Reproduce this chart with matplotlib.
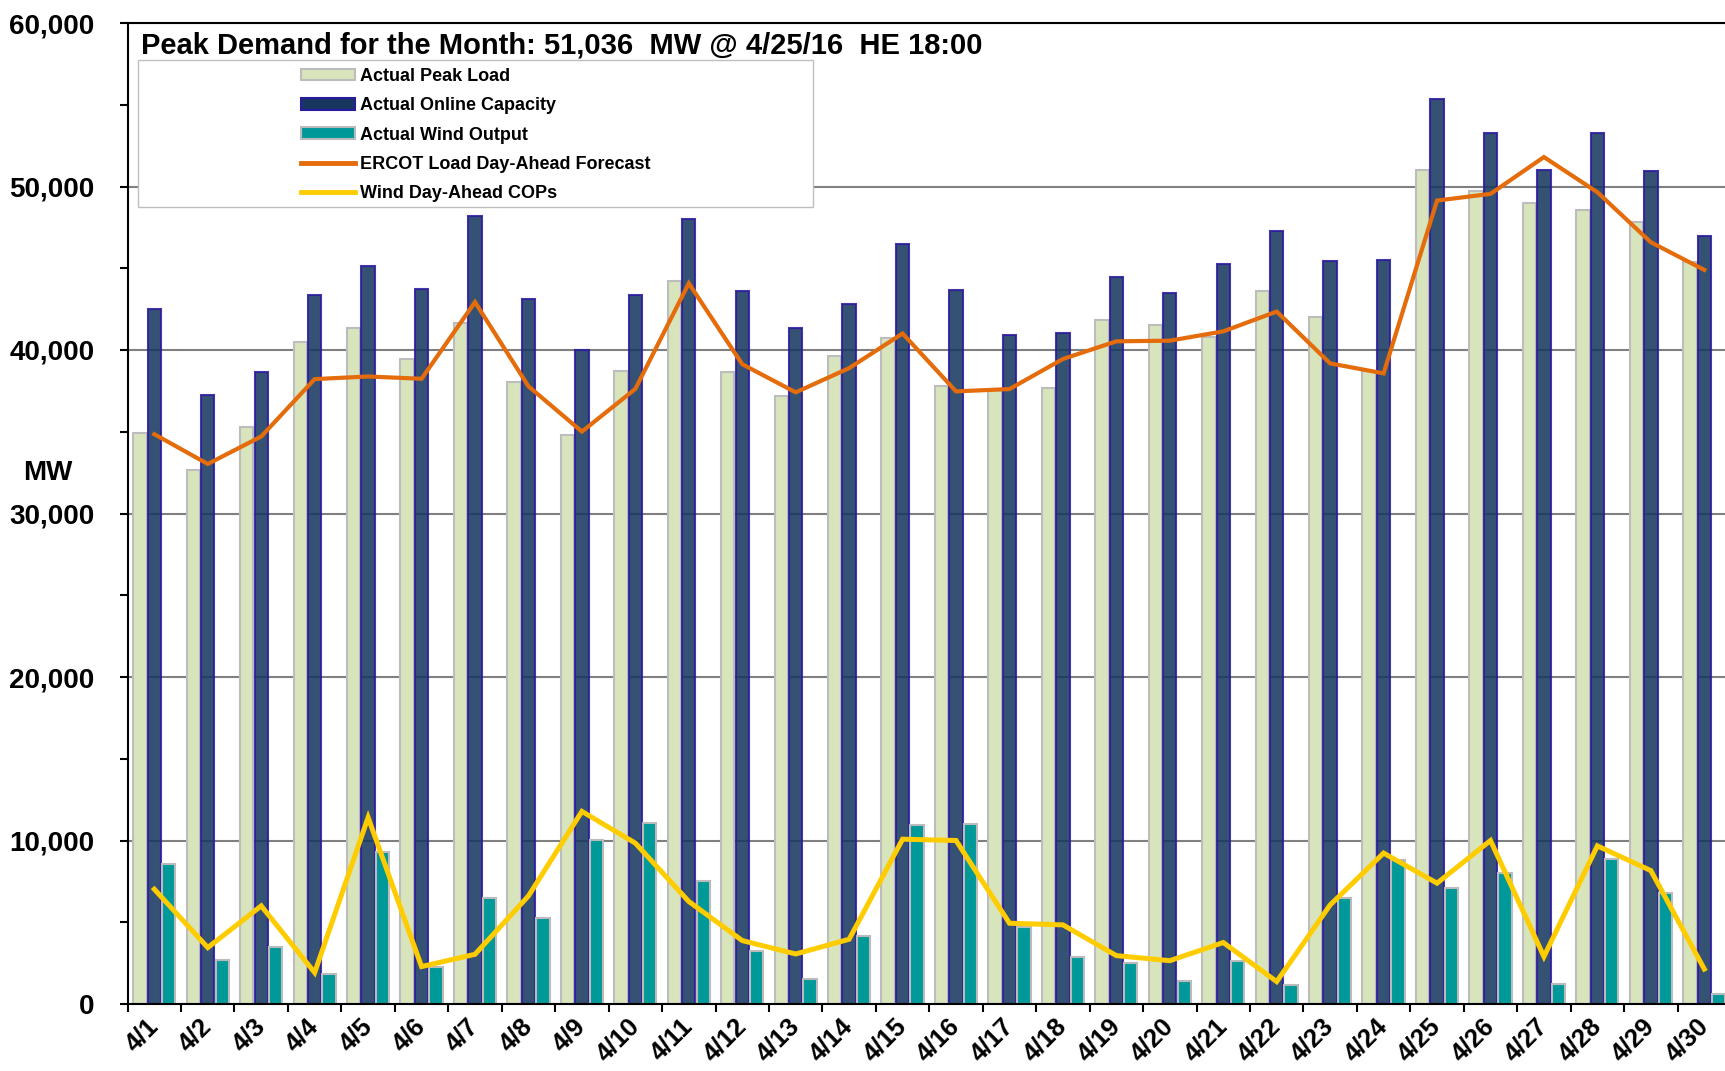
from matplotlib import pyplot as plt
from matplotlib.patches import Patch, Rectangle
from matplotlib.lines import Line2D
from matplotlib.ticker import FuncFormatter, MultipleLocator
import numpy as np

plt.rcParams['font.family'] = ['Liberation Sans', 'DejaVu Sans']
plt.rcParams['font.weight'] = 'bold'

days = ['4/1', '4/2', '4/3', '4/4', '4/5', '4/6', '4/7', '4/8', '4/9', '4/10',
        '4/11', '4/12', '4/13', '4/14', '4/15', '4/16', '4/17', '4/18', '4/19', '4/20',
        '4/21', '4/22', '4/23', '4/24', '4/25', '4/26', '4/27', '4/28', '4/29', '4/30']

peak_load = [34900, 32650, 35300, 40500, 41370, 39430, 41650, 38020, 34830, 38690,
             44240, 38630, 37170, 39640, 40750, 37780, 37580, 37670, 41860, 41530,
             40780, 43590, 42000, 38730, 51036, 49700, 48980, 48590, 47820, 45400]

online_cap = [42525, 37230, 38630, 43370, 45130, 43740, 48180, 43130, 40000, 43370,
              48040, 43600, 41350, 42830, 46460, 43680, 40920, 41020, 44450, 43510,
              45250, 47270, 45470, 45530, 55330, 53290, 51020, 53290, 50940, 46960]

wind_out = [8570, 2690, 3470, 1840, 9290, 2290, 6470, 5290, 10040, 11060,
            7550, 3250, 1510, 4180, 10960, 11020, 4740, 2860, 2530, 1430,
            2630, 1160, 6470, 8820, 7080, 8040, 1220, 8880, 6780, 590]

load_fcst = [34850, 33030, 34710, 38220, 38380, 38240, 42930, 37780, 35010, 37620,
             44080, 39130, 37410, 38890, 41010, 37470, 37610, 39450, 40530, 40570,
             41140, 42350, 39180, 38570, 49140, 49550, 51800, 49650, 46590, 44900]

wind_cop = [7020, 3450, 6000, 1920, 11410, 2290, 3040, 6610, 11780, 9840,
            6270, 3880, 3060, 3960, 10080, 10000, 4940, 4840, 2960, 2650,
            3760, 1370, 6060, 9230, 7390, 10000, 2900, 9670, 8160, 2140]

c_load = '#D8E4BC'
c_load_edge = '#BDBDBD'
c_cap = '#17375E'
c_cap_edge = '#2A1A9F'
c_wind = '#009999'
c_wind_edge = '#BBBBBB'
c_fcst = '#E46C0A'
c_cop = '#FFCC00'

fig = plt.figure(figsize=(17.25, 10.71), dpi=100)
ax = fig.add_axes([127.6 / 1725, 67 / 1071, (1731 - 127.6) / 1725, 981 / 1071])

x = np.arange(len(days))
w = 0.27

ax.bar(x - w, peak_load, 0.25, color=c_load, edgecolor=c_load_edge, linewidth=1.5, zorder=2)
ax.bar(x, online_cap, 0.25, color=c_cap, alpha=0.87, edgecolor=c_cap_edge, linewidth=1.5, zorder=2)
ax.bar(x + w, wind_out, 0.25, color=c_wind, edgecolor=c_wind_edge, linewidth=1.5, zorder=2)

ax.plot(x, load_fcst, color=c_fcst, linewidth=3, zorder=4, solid_joinstyle='miter')
ax.plot(x, wind_cop, color=c_cop, linewidth=3.6, zorder=4, solid_joinstyle='miter')

ax.set_xlim(-0.5, 29.5)
ax.set_ylim(0, 60000)

ax.yaxis.set_major_locator(MultipleLocator(10000))
ax.yaxis.set_minor_locator(MultipleLocator(5000))
ax.yaxis.set_major_formatter(FuncFormatter(lambda v, p: '{:,.0f}'.format(v)))
ax.grid(axis='y', which='major', color='#808080', linewidth=1.5, zorder=1)
ax.set_axisbelow(True)

ax.set_xticks(x)
ax.set_xticklabels(days, rotation=45, ha='right', va='center', rotation_mode='anchor',
                   fontsize=18.5, fontweight='bold')
ax.set_xticks(np.arange(-0.5, 30, 1), minor=True)
ax.tick_params(axis='x', which='major', length=0, pad=13)
ax.tick_params(axis='x', which='minor', length=6, width=1.5, direction='out')
ax.tick_params(axis='y', which='both', length=6, width=1.5, direction='out', pad=18)
for lab in ax.get_yticklabels():
    lab.set_fontsize(20)
    lab.set_fontweight('bold')

for side in ['left', 'bottom', 'top', 'right']:
    ax.spines[side].set_linewidth(1.5)
    ax.spines[side].set_color('black')

fig.text(48 / 1725, 1 - 473 / 1071, 'MW', ha='center', va='center',
         fontsize=20, fontweight='bold')
fig.text(141 / 1725, 1 - 45 / 1071,
         'Peak Demand for the Month: 51,036  MW @ 4/25/16  HE 18:00',
         ha='left', va='center', fontsize=21, fontweight='bold')

box = Rectangle((138 / 1725, 1 - 207 / 1071), 675 / 1725, 147 / 1071,
                transform=fig.transFigure, facecolor='white', edgecolor='#BFBFBF',
                linewidth=1, zorder=1)
fig.add_artist(box)

handles = [Patch(facecolor=c_load, edgecolor=c_load_edge, linewidth=1.5),
           Patch(facecolor=c_cap, edgecolor=c_cap_edge, linewidth=1.5),
           Patch(facecolor=c_wind, edgecolor=c_wind_edge, linewidth=1.5),
           Line2D([], [], color=c_fcst, linewidth=3.5),
           Line2D([], [], color=c_cop, linewidth=3.5)]
names = ['Actual Peak Load', 'Actual Online Capacity', 'Actual Wind Output',
         'ERCOT Load Day-Ahead Forecast', 'Wind Day-Ahead COPs']
fig.legend(handles, names, loc='upper left', bbox_to_anchor=(301 / 1725, 1 - 68 / 1071),
           bbox_transform=fig.transFigure, frameon=False, borderpad=0, borderaxespad=0,
           handlelength=3.0, handleheight=0.6, handletextpad=0.25, labelspacing=0.68,
           prop={'size': 13, 'weight': 'bold'})

fig.savefig('out.png', dpi=100)
plt.close()
